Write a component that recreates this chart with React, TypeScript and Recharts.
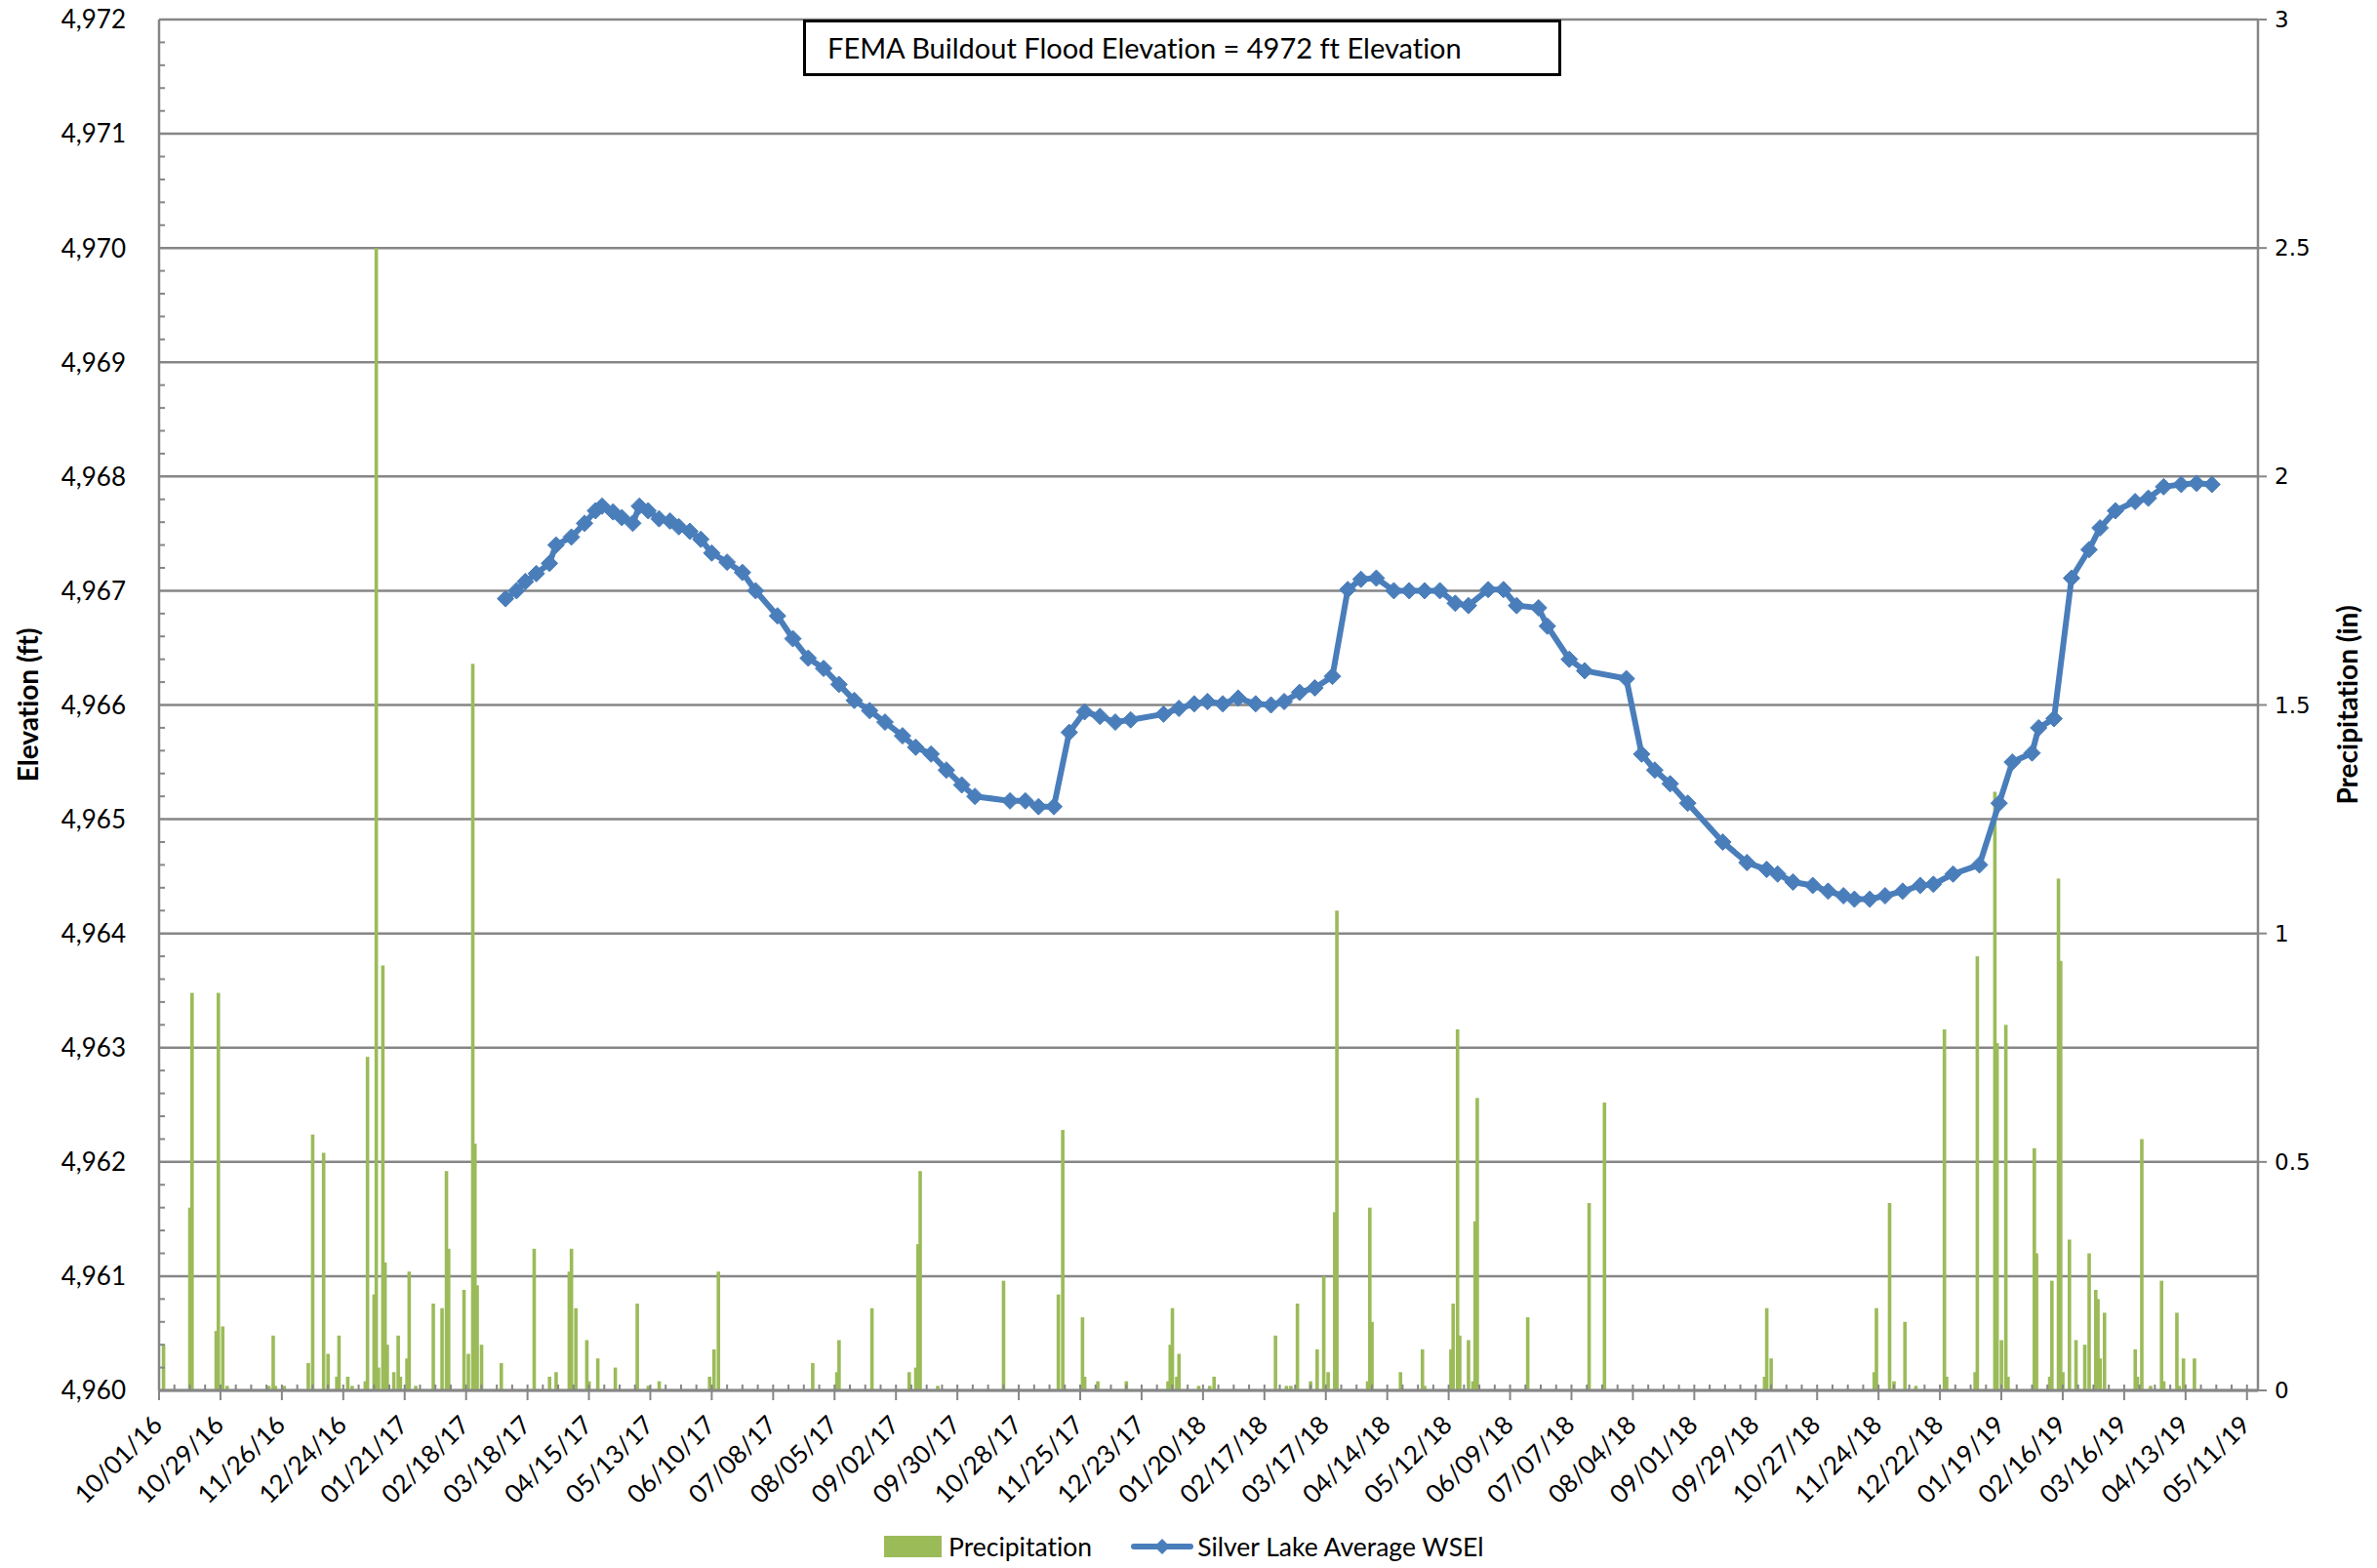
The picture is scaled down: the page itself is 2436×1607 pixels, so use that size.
import React from "react";
import { Bar, CartesianGrid, ComposedChart, Line, XAxis, YAxis } from "recharts";

// daily precipitation (in), only days with rain
const precipDates = [
  "10/03/16", "10/15/16", "10/16/16", "10/27/16", "10/28/16", "10/30/16", "11/01/16", "11/20/16",
  "11/22/16", "11/23/16", "11/27/16", "12/08/16", "12/10/16", "12/15/16", "12/17/16", "12/21/16",
  "12/22/16", "12/26/16", "12/28/16", "01/03/17", "01/04/17", "01/07/17", "01/08/17", "01/09/17",
  "01/11/17", "01/12/17", "01/13/17", "01/16/17", "01/18/17", "01/19/17", "01/22/17", "01/23/17",
  "01/26/17", "02/03/17", "02/07/17", "02/09/17", "02/10/17", "02/17/17", "02/19/17", "02/21/17",
  "02/22/17", "02/23/17", "02/25/17", "03/06/17", "03/21/17", "03/28/17", "03/31/17", "04/06/17",
  "04/07/17", "04/09/17", "04/14/17", "04/15/17", "04/19/17", "04/27/17", "05/07/17", "05/12/17",
  "05/17/17", "06/09/17", "06/11/17", "06/13/17", "07/26/17", "08/06/17", "08/07/17", "08/22/17",
  "09/08/17", "09/11/17", "09/12/17", "09/13/17", "09/21/17", "10/21/17", "11/15/17", "11/17/17",
  "11/26/17", "11/27/17", "12/03/17", "12/16/17", "01/04/18", "01/05/18", "01/06/18", "01/08/18",
  "01/09/18", "01/18/18", "01/23/18", "01/25/18", "02/22/18", "02/27/18", "03/01/18", "03/04/18",
  "03/10/18", "03/13/18", "03/16/18", "03/18/18", "03/21/18", "03/22/18", "04/05/18", "04/06/18",
  "04/07/18", "04/20/18", "04/30/18", "05/01/18", "05/13/18", "05/14/18", "05/16/18", "05/17/18",
  "05/21/18", "05/23/18", "05/24/18", "05/25/18", "06/17/18", "07/15/18", "07/22/18", "10/03/18",
  "10/04/18", "10/06/18", "11/22/18", "11/23/18", "11/29/18", "12/01/18", "12/06/18", "12/11/18",
  "12/24/18", "12/25/18", "01/07/19", "01/08/19", "01/16/19", "01/17/19", "01/19/19", "01/21/19",
  "01/22/19", "02/03/19", "02/04/19", "02/10/19", "02/11/19", "02/14/19", "02/15/19", "02/16/19",
  "02/19/19", "02/22/19", "02/26/19", "02/28/19", "03/03/19", "03/04/19", "03/05/19", "03/07/19",
  "03/21/19", "03/22/19", "03/24/19", "03/28/19", "04/02/19", "04/03/19", "04/09/19", "04/10/19",
  "04/12/19", "04/17/19",
];
const precipValues = [
  0.1, 0.4, 0.87, 0.13, 0.87, 0.14, 0.01, 0.01,
  0.12, 0.01, 0.01, 0.06, 0.56, 0.52, 0.08, 0.03,
  0.12, 0.03, 0.01, 0.02, 0.73, 0.21, 2.5, 0.05,
  0.93, 0.28, 0.1, 0.04, 0.12, 0.03, 0.07, 0.26,
  0.01, 0.19, 0.18, 0.48, 0.31, 0.22, 0.08, 1.59,
  0.54, 0.23, 0.1, 0.06, 0.31, 0.03, 0.04, 0.26,
  0.31, 0.18, 0.11, 0.02, 0.07, 0.05, 0.19, 0.01,
  0.02, 0.03, 0.09, 0.26, 0.06, 0.04, 0.11, 0.18,
  0.04, 0.05, 0.32, 0.48, 0.01, 0.24, 0.21, 0.57,
  0.16, 0.03, 0.02, 0.02, 0.02, 0.1, 0.18, 0.03,
  0.08, 0.01, 0.01, 0.03, 0.12, 0.01, 0.01, 0.19,
  0.02, 0.09, 0.25, 0.04, 0.39, 1.05, 0.02, 0.4,
  0.15, 0.04, 0.09, 0.01, 0.09, 0.19, 0.79, 0.12,
  0.11, 0.02, 0.37, 0.64, 0.16, 0.41, 0.63, 0.03,
  0.18, 0.07, 0.04, 0.18, 0.41, 0.02, 0.15, 0.01,
  0.79, 0.03, 0.04, 0.95, 1.31, 0.76, 0.11, 0.8,
  0.03, 0.53, 0.3, 0.03, 0.24, 1.12, 0.94, 0.04,
  0.33, 0.11, 0.1, 0.3, 0.22, 0.2, 0.07, 0.17,
  0.09, 0.03, 0.55, 0.01, 0.24, 0.02, 0.17, 0.01,
  0.07, 0.07,
];

// Silver Lake average water surface elevation (ft)
const lakeDates = [
  "03/08/17", "03/13/17", "03/17/17", "03/22/17", "03/28/17", "03/31/17", "04/07/17", "04/13/17",
  "04/18/17", "04/21/17", "04/26/17", "04/30/17", "05/05/17", "05/08/17", "05/12/17", "05/17/17",
  "05/22/17", "05/26/17", "05/31/17", "06/05/17", "06/10/17", "06/17/17", "06/24/17", "06/30/17",
  "07/10/17", "07/17/17", "07/24/17", "07/31/17", "08/07/17", "08/14/17", "08/21/17", "08/28/17",
  "09/05/17", "09/11/17", "09/18/17", "09/25/17", "10/02/17", "10/08/17", "10/24/17", "10/31/17",
  "11/06/17", "11/13/17", "11/20/17", "11/27/17", "12/04/17", "12/11/17", "12/18/17", "01/02/18",
  "01/09/18", "01/16/18", "01/22/18", "01/29/18", "02/05/18", "02/13/18", "02/20/18", "02/26/18",
  "03/05/18", "03/12/18", "03/20/18", "03/27/18", "04/02/18", "04/09/18", "04/17/18", "04/24/18",
  "05/01/18", "05/08/18", "05/15/18", "05/21/18", "05/30/18", "06/06/18", "06/12/18", "06/22/18",
  "06/26/18", "07/06/18", "07/13/18", "08/01/18", "08/08/18", "08/14/18", "08/21/18", "08/29/18",
  "09/14/18", "09/25/18", "10/04/18", "10/09/18", "10/16/18", "10/25/18", "11/01/18", "11/08/18",
  "11/13/18", "11/20/18", "11/27/18", "12/05/18", "12/13/18", "12/19/18", "12/28/18", "01/09/19",
  "01/18/19", "01/24/19", "02/02/19", "02/05/19", "02/12/19", "02/20/19", "02/28/19", "03/05/19",
  "03/12/19", "03/21/19", "03/27/19", "04/03/19", "04/11/19", "04/18/19", "04/25/19",
];
const lakeValues = [
  4966.93, 4967.0, 4967.08, 4967.15, 4967.24, 4967.4, 4967.47, 4967.59,
  4967.7, 4967.74, 4967.69, 4967.64, 4967.59, 4967.74, 4967.7, 4967.63,
  4967.61, 4967.56, 4967.52, 4967.45, 4967.33, 4967.25, 4967.16, 4967.0,
  4966.78, 4966.58, 4966.41, 4966.32, 4966.18, 4966.04, 4965.95, 4965.85,
  4965.73, 4965.63, 4965.57, 4965.43, 4965.3, 4965.2, 4965.16, 4965.16,
  4965.11, 4965.11, 4965.76, 4965.94, 4965.9, 4965.85, 4965.87, 4965.92,
  4965.97, 4966.01, 4966.03, 4966.01, 4966.06, 4966.01, 4966.0, 4966.03,
  4966.11, 4966.15, 4966.25, 4967.01, 4967.1, 4967.11, 4967.0, 4967.0,
  4967.0, 4967.0, 4966.89, 4966.87, 4967.01, 4967.01, 4966.87, 4966.85,
  4966.69, 4966.4, 4966.3, 4966.23, 4965.57, 4965.43, 4965.31, 4965.14,
  4964.8, 4964.62, 4964.56, 4964.52, 4964.45, 4964.42, 4964.37, 4964.33,
  4964.3, 4964.3, 4964.33, 4964.37, 4964.42, 4964.43, 4964.52, 4964.6,
  4965.14, 4965.5, 4965.58, 4965.8, 4965.88, 4967.11, 4967.36, 4967.55,
  4967.7, 4967.78, 4967.81, 4967.91, 4967.93, 4967.94, 4967.93,
];

const xTickDates = [
  "10/01/16", "10/29/16", "11/26/16", "12/24/16", "01/21/17", "02/18/17", "03/18/17", "04/15/17",
  "05/13/17", "06/10/17", "07/08/17", "08/05/17", "09/02/17", "09/30/17", "10/28/17", "11/25/17",
  "12/23/17", "01/20/18", "02/17/18", "03/17/18", "04/14/18", "05/12/18", "06/09/18", "07/07/18",
  "08/04/18", "09/01/18", "09/29/18", "10/27/18", "11/24/18", "12/22/18", "01/19/19", "02/16/19",
  "03/16/19", "04/13/19", "05/11/19",
];
const elevationTicks = [4960, 4961, 4962, 4963, 4964, 4965, 4966, 4967, 4968, 4969, 4970, 4971, 4972];
const precipTicks = [0, 0.5, 1, 1.5, 2, 2.5, 3];

const GREEN = "#9BBB59";
const BLUE = "#4A7EBB";
const AXIS = "#868686";
const FONT = "Lato, 'Liberation Sans', sans-serif";

const DAY_MS = 86400000;
const ORIGIN = Date.UTC(2016, 9, 1);
const toDay = (s: string) => {
  const [m, d, y] = s.split("/").map(Number);
  return Math.round((Date.UTC(2000 + y, m - 1, d) - ORIGIN) / DAY_MS);
};
const fmtDay = (n: number) => {
  const dt = new Date(ORIGIN + n * DAY_MS);
  const p = (v: number) => String(v).padStart(2, "0");
  return `${p(dt.getUTCMonth() + 1)}/${p(dt.getUTCDate())}/${p(dt.getUTCFullYear() % 100)}`;
};

const majorDays = xTickDates.map(toDay);
const lastDay = majorDays[majorDays.length - 1];
// weekly minor ticks between the 4-week labels
const weekTicks: number[] = [];
for (let d = 0; d <= lastDay; d += 7) weekTicks.push(d);
const elevMinorTicks: number[] = [];
for (let i = 0; i <= 60; i++) elevMinorTicks.push(Math.round((4960 + i * 0.2) * 10) / 10);

type Row = { day: number; precip?: number; lake?: number };
const rowMap = new Map<number, Row>();
precipDates.forEach((s, i) => {
  const day = toDay(s);
  const row = rowMap.get(day) ?? { day };
  row.precip = precipValues[i];
  rowMap.set(day, row);
});
lakeDates.forEach((s, i) => {
  const day = toDay(s);
  const row = rowMap.get(day) ?? { day };
  row.lake = lakeValues[i];
  rowMap.set(day, row);
});
const chartData = Array.from(rowMap.values()).sort((a, b) => a.day - b.day);

const PrecipBar = (props: any) => {
  const { x, y, width, height } = props;
  if (x == null || !height || height <= 0) return null;
  const cx = x + width / 2;
  return <rect x={cx - 1.8} y={y} width={3.6} height={height} fill={GREEN} />;
};

const Diamond = (props: any) => {
  const { cx, cy } = props;
  if (cx == null || cy == null) return null;
  const r = 8.5;
  return (
    <path
      d={`M${cx},${cy - r} L${cx + r},${cy} L${cx},${cy + r} L${cx - r},${cy} Z`}
      fill={BLUE}
      stroke={BLUE}
      strokeWidth={1}
    />
  );
};

const DateTick = (props: any) => {
  const { x, y, payload } = props;
  const day = payload.value as number;
  if (!majorDays.includes(day)) {
    return <line x1={x} x2={x} y1={y} y2={y - 6} stroke={AXIS} strokeWidth={2} />;
  }
  return (
    <g>
      <line x1={x} x2={x} y1={y - 6} y2={y + 10} stroke={AXIS} strokeWidth={2} />
      <text
        transform={`translate(${x + 5},${y + 37}) rotate(-45)`}
        textAnchor="end"
        fontFamily={FONT}
        fontSize={26}
        fill="#000"
      >
        {fmtDay(day)}
      </text>
    </g>
  );
};

const ElevTick = (props: any) => {
  const { x, y, payload } = props;
  const v = payload.value as number;
  if (elevationTicks.includes(v)) {
    return (
      <text x={x - 34} y={y} dy="0.36em" textAnchor="end" fontFamily={FONT} fontSize={26} fill="#000">
        {v.toLocaleString("en-US")}
      </text>
    );
  }
  return <line x1={x} x2={x + 6} y1={y} y2={y} stroke={AXIS} strokeWidth={2} />;
};

const AxisTitle = ({ viewBox, text, dx }: any) => {
  if (!viewBox) return null;
  const cx = viewBox.x + dx;
  const cy = viewBox.y + viewBox.height / 2;
  return (
    <text
      transform={`translate(${cx},${cy}) rotate(-90)`}
      textAnchor="middle"
      dominantBaseline="central"
      fontFamily={FONT}
      fontWeight="bold"
      fontSize={28}
      fill="#000"
      style={{ fontVariantLigatures: "none" }}
    >
      {text}
    </text>
  );
};

export default function App() {
  return (
    <div
      style={{
        position: "absolute",
        left: 0,
        top: 0,
        width: 2436,
        height: 1607,
        background: "#fff",
        fontFamily: FONT,
        fontVariantLigatures: "none",
      }}
    >
      <ComposedChart
        width={2436}
        height={1607}
        data={chartData}
        margin={{ top: 20, right: 0, bottom: 0, left: 0 }}
      >
        <CartesianGrid
          yAxisId="left"
          vertical={false}
          horizontalValues={elevationTicks}
          stroke={AXIS}
          strokeWidth={2.5}
        />
        <XAxis
          dataKey="day"
          type="number"
          domain={[0, 957]}
          ticks={weekTicks}
          interval={0}
          height={182}
          tickSize={0}
          tickMargin={0}
          tickLine={false}
          tick={<DateTick />}
          axisLine={{ stroke: AXIS, strokeWidth: 3 }}
          allowDataOverflow
        />
        <YAxis
          yAxisId="left"
          orientation="left"
          domain={[4960, 4972]}
          ticks={elevMinorTicks}
          interval={0}
          width={163}
          tickSize={0}
          tickMargin={0}
          tickLine={false}
          tick={<ElevTick />}
          axisLine={{ stroke: AXIS, strokeWidth: 2.5 }}
          allowDataOverflow
          label={<AxisTitle text="Elevation (ft)" dx={28} />}
        />
        <YAxis
          yAxisId="right"
          orientation="right"
          domain={[0, 3]}
          ticks={precipTicks}
          interval={0}
          width={122}
          tickSize={9}
          tickMargin={8}
          tickLine={{ stroke: AXIS, strokeWidth: 2 }}
          tick={{ fontFamily: "'DejaVu Sans', sans-serif", fontSize: 23, fill: "#000" }}
          axisLine={{ stroke: AXIS, strokeWidth: 2.5 }}
          allowDataOverflow
          label={<AxisTitle text="Precipitation (in)" dx={91} />}
        />
        <Bar
          yAxisId="right"
          dataKey="precip"
          name="Precipitation"
          fill={GREEN}
          shape={<PrecipBar />}
          isAnimationActive={false}
        />
        <Line
          yAxisId="left"
          dataKey="lake"
          name="Silver Lake Average WSEl"
          stroke={BLUE}
          strokeWidth={6}
          strokeLinejoin="round"
          connectNulls
          dot={<Diamond />}
          activeDot={false}
          isAnimationActive={false}
        />
      </ComposedChart>

      <div
        style={{
          position: "absolute",
          left: 823,
          top: 20,
          width: 777,
          height: 58,
          boxSizing: "border-box",
          border: "3px solid #000",
          background: "#fff",
          fontSize: 29,
          lineHeight: "52px",
          paddingLeft: 22,
          color: "#000",
        }}
      >
        FEMA Buildout Flood Elevation = 4972 ft Elevation
      </div>

      <div
        style={{
          position: "absolute",
          left: 906,
          top: 1568,
          height: 34,
          display: "flex",
          alignItems: "center",
          fontSize: 26.5,
          color: "#000",
        }}
      >
        <span style={{ display: "inline-block", width: 59, height: 22, background: GREEN, marginRight: 7 }} />
        <span style={{ marginRight: 40 }}>Precipitation</span>
        <svg width={64} height={22} style={{ marginRight: 4 }}>
          <line x1={3} x2={61} y1={11} y2={11} stroke={BLUE} strokeWidth={6} strokeLinecap="round" />
          <path d="M32,3 L40,11 L32,19 L24,11 Z" fill={BLUE} />
        </svg>
        <span>Silver Lake Average WSEl</span>
      </div>
    </div>
  );
}
